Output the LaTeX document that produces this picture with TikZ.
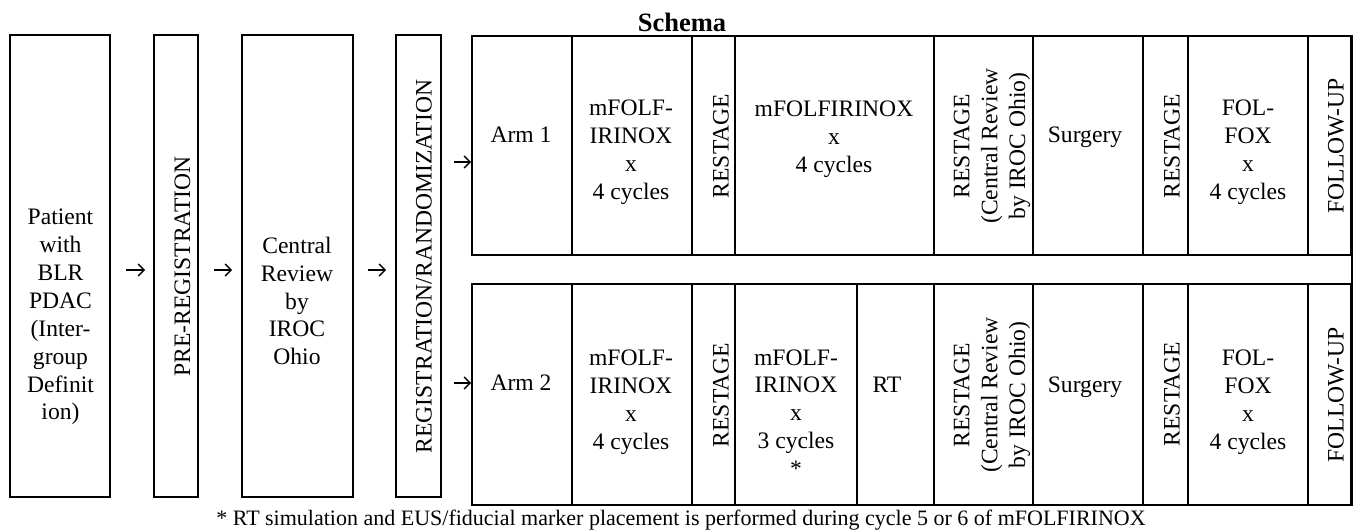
\documentclass[tikz,border=0pt]{standalone}
\usepackage{fontspec}
\setmainfont{Liberation Serif}
\usetikzlibrary{arrows.meta}
\begin{document}
\begin{tikzpicture}[x=1pt,y=-1pt,
  boxn/.style={draw, line width=1.6pt, inner sep=0pt, rectangle},
  txt/.style={inner sep=0pt, align=center, font=\fontsize{23.6}{27.9}\selectfont},
  arr/.style={line width=1.5pt, -{Straight Barb[length=6pt,width=12pt,line width=1.5pt]}},
]
\useasboundingbox (0,0) rectangle (1360,531);
% left boxes
\node[boxn, minimum width=100pt, minimum height=462pt] (patient) at (60,266) {};
\node[boxn, minimum width=44pt, minimum height=462pt] (prereg) at (176,266) {};
\node[boxn, minimum width=111pt, minimum height=462pt] (central) at (297.5,266) {};
\node[boxn, minimum width=45pt, minimum height=462pt] (regrand) at (418.5,266) {};
% arm 1 cells
\foreach \i/\xa/\xb in {1/472/572,2/572/692,3/692/735,4/735/934,5/934/1033,6/1033/1143,7/1143/1188,8/1188/1308,9/1308/1351}
  \node[boxn, minimum width={(\xb-\xa)*1pt}, minimum height=219pt] (a1-\i) at ({(\xa+\xb)/2},145.5) {};
% arm 2 cells
\foreach \i/\xa/\xb in {1/472/572,2/572/692,3/692/735,4/735/857,5/857/934,6/934/1033,7/1033/1143,8/1143/1188,9/1188/1308,10/1308/1351}
  \node[boxn, minimum width={(\xb-\xa)*1pt}, minimum height=221pt] (a2-\i) at ({(\xa+\xb)/2},394.5) {};
% gap border (right side only)
\draw[line width=2.6pt] (a1-9.north east) -- (a2-10.south east);
% arrows
\draw[arr] ([xshift=15pt,yshift=-4pt]patient.east) -- ([xshift=-8pt,yshift=-4pt]prereg.west);
\draw[arr] ([xshift=15pt,yshift=-4pt]prereg.east) -- ([xshift=-9pt,yshift=-4pt]central.west);
\draw[arr] ([xshift=14pt,yshift=-4pt]central.east) -- ([xshift=-9pt,yshift=-4pt]regrand.west);
\draw[arr] ([xshift=-17pt,yshift=-16.5pt]a1-1.west) -- ([yshift=-16.5pt]a1-1.west);
\draw[arr] ([xshift=-17pt,yshift=11.5pt]a2-1.west) -- ([yshift=11.5pt]a2-1.west);
% title
\node[inner sep=0pt, font=\fontsize{26.5}{30}\selectfont\bfseries] (title) at (682,22) {Schema};
% left texts
\node[txt] (t-patient) at (60.5,317) {Patient\\with\\BLR\\PDAC\\(Inter-\\group\\Definit\\ion)};
\node[txt, rotate=90] (t-prereg) at (182.5,266.5) {PRE-REGISTRATION};
\node[txt] (t-central) at (297,301) {Central\\Review\\by\\IROC\\Ohio};
\node[txt, rotate=90] (t-regrand) at (424,266.5) {REGISTRATION/RANDOMIZATION};
% arm 1 texts
\node[txt] (t1-arm) at (521,135) {Arm 1};
\node[txt] (t1-mf) at (631,152) {mFOLF-\\IRINOX\\x\\4 cycles};
\node[txt, rotate=90] (t1-rs1) at (721,146) {RESTAGE};
\node[txt] (t1-mf2) at (834,139) {mFOLFIRINOX\\x\\4 cycles};
\node[txt, rotate=90] (t1-rs2) at (992,146) {RESTAGE\\(Central Review\\by IROC Ohio)};
\node[txt] (t1-surg) at (1085,137) {Surgery};
\node[txt, rotate=90] (t1-rs3) at (1172,146) {RESTAGE};
\node[txt] (t1-fol) at (1248,152) {FOL-\\FOX\\x\\4 cycles};
\node[txt, rotate=90] (t1-fu) at (1336,146) {FOLLOW-UP};
% arm 2 texts
\node[txt] (t2-arm) at (521,383) {Arm 2};
\node[txt] (t2-mf) at (631,402) {mFOLF-\\IRINOX\\x\\4 cycles};
\node[txt, rotate=90] (t2-rs1) at (721,395) {RESTAGE};
\node[txt] (t2-mf2) at (796,413) {mFOLF-\\IRINOX\\x\\3 cycles\\*};
\node[txt] (t2-rt) at (887,385) {RT};
\node[txt, rotate=90] (t2-rs2) at (992,395) {RESTAGE\\(Central Review\\by IROC Ohio)};
\node[txt] (t2-surg) at (1085,387) {Surgery};
\node[txt, rotate=90] (t2-rs3) at (1172,394) {RESTAGE};
\node[txt] (t2-fol) at (1248,402) {FOL-\\FOX\\x\\4 cycles};
\node[txt, rotate=90] (t2-fu) at (1336,395) {FOLLOW-UP};
% footnote
\node[inner sep=0pt, font=\fontsize{22}{26}\selectfont] (foot) at (681,520) {* RT simulation and EUS/fiducial marker placement is performed during cycle 5 or 6 of mFOLFIRINOX};
\end{tikzpicture}
\end{document}
